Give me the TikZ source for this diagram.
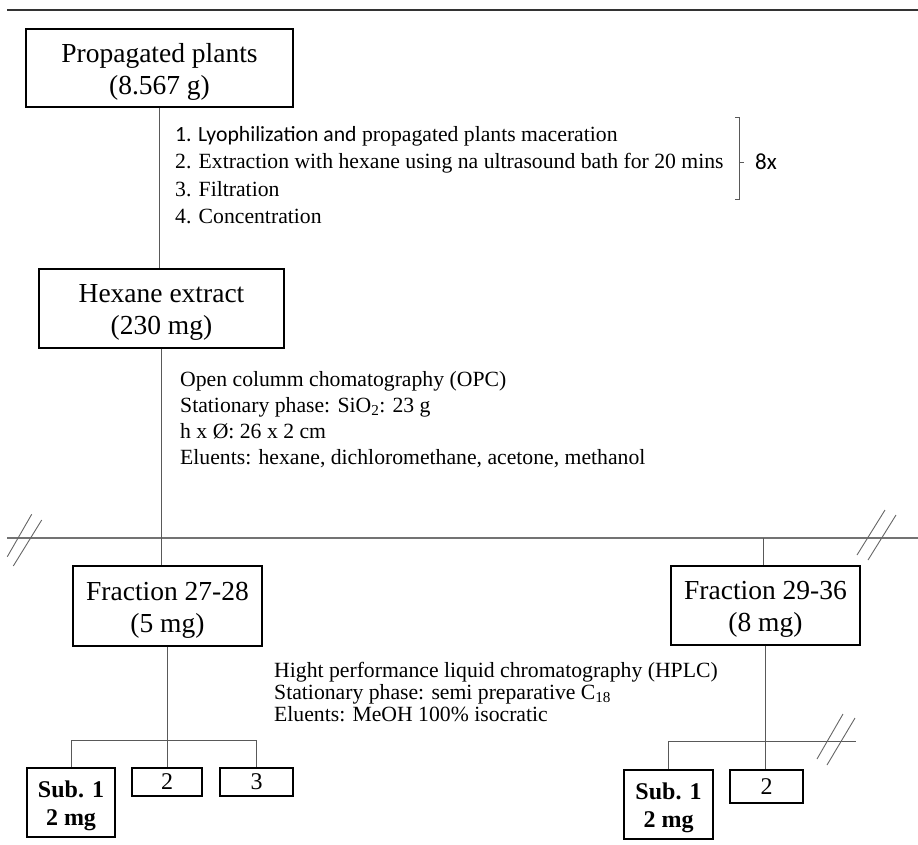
\documentclass[tikz,border=0pt]{standalone}
\usepackage{fontspec}
\setmainfont{Liberation Serif}
\newfontfamily\calib{Carlito}
\newcommand{\bigstrut}{\rule{0pt}{26pt}}
\newcommand{\substrut}{\rule{0pt}{23pt}}
\begin{document}
\begin{tikzpicture}[x=1pt,y=-1pt,
  box/.style={draw=black, line width=1.4pt, inner sep=0pt, align=center},
  bigtext/.style={font=\fontsize{27.5}{32}\selectfont},
  subtext/.style={font=\fontsize{24}{28}\selectfont},
  smalltext/.style={font=\fontsize{21.7}{26}\selectfont, inner sep=0pt, anchor=base west},
  conn/.style={draw=black!65, line width=1pt},
  hline/.style={draw=black!55, line width=1.3pt},
  slash/.style={draw=black!60, line width=0.9pt},
  topline/.style={draw=black!80, line width=2pt}
]
\useasboundingbox (0,0) rectangle (918,844);
% top rule
\coordinate (tl) at (7,10);
\coordinate (tr) at (918,10);
\draw[topline] (tl) -- (tr);

% main boxes
\node[box, bigtext, minimum width=267, minimum height=78] (prop) at (159.5,68) {\bigstrut Propagated plants\\(8.567 g)};
\node[box, bigtext, minimum width=245, minimum height=79] (hex) at (161.5,308.5) {\bigstrut Hexane extract\\(230 mg)};
\node[box, bigtext, minimum width=189, minimum height=80] (frac1) at (167.5,606) {\bigstrut Fraction 27-28\\(5 mg)};
\node[box, bigtext, minimum width=189, minimum height=79] (frac2) at (765.5,605.5) {\bigstrut Fraction 29-36\\(8 mg)};

% sub boxes left
\node[box, subtext, minimum width=88, minimum height=69] (subL) at (71,802.5) {\substrut\textbf{Sub. 1}\\\textbf{2 mg}};
\node[box, subtext, minimum width=70, minimum height=28] (b2L) at (167,782) {2};
\node[box, subtext, minimum width=73, minimum height=28] (b3L) at (256.5,782) {3};
% sub boxes right
\node[box, subtext, minimum width=89, minimum height=69] (subR) at (668.5,804.5) {\substrut\textbf{Sub. 1}\\\textbf{2 mg}};
\node[box, subtext, minimum width=73, minimum height=33] (b2R) at (766.5,786.5) {2};

% step texts
\node[smalltext] (s1) at (175,141) {{\calib 1. Lyophilization and} propagated plants maceration};
\node[smalltext] (s2) at (175,168.5) {2. Extraction with hexane using na ultrasound bath for 20 mins};
\node[smalltext] (s3) at (175,196) {3. Filtration};
\node[smalltext] (s4) at (175,223.5) {4. Concentration};
% bracket
\coordinate (bt) at (735,117);
\coordinate (bb) at (735,199);
\coordinate (bm) at (739,162);
\draw[conn, line width=0.9pt] (bt) -- ++(4,0) -- ++(0,82) -- (bb);
\draw[conn, line width=0.9pt] (bm) -- ++(5,0);
\node[anchor=west, inner sep=0pt, font=\calib\fontsize{23}{27}\selectfont] (eight) at (755,162) {8x};

% OPC texts
\node[smalltext] (o1) at (180,386) {Open columm chomatography (OPC)};
\node[smalltext] (o2) at (180,412) {Stationary phase: SiO\textsubscript{2}: 23 g};
\node[smalltext] (o3) at (180,438) {h x Ø: 26 x 2 cm};
\node[smalltext] (o4) at (180,464) {Eluents: hexane, dichloromethane, acetone, methanol};

% HPLC texts
\node[smalltext] (h1) at (274,677) {Hight performance liquid chromatography (HPLC)};
\node[smalltext] (h2) at (274,699) {Stationary phase: semi preparative C\textsubscript{18}};
\node[smalltext] (h3) at (274,721) {Eluents: MeOH 100\% isocratic};

% connectors
\draw[conn] (prop.south) -- (prop.south |- hex.north);
\coordinate (hlL) at (7,538);
\coordinate (hlR) at (918,538);
\draw[hline] (hlL) -- (hlR);
\draw[conn] (hex.south) -- (hex.south |- frac1.north);
\coordinate (jR) at (763,538);
\draw[conn] (jR) -- (jR |- frac2.north);

% bottom left tree
\coordinate (bl) at (71,740);
\draw[conn] (frac1.south) -- (frac1.south |- b2L.north);
\draw[conn] (subL.north) -- (bl) -| (b3L.north);
% bottom right tree
\coordinate (br) at (856,741);
\draw[conn] (frac2.south) -- (frac2.south |- b2R.north);
\draw[conn] (subR.north) |- (br);

% break marks
\draw[slash] (31.7,514.3) -- (7.3,556.7);
\draw[slash] (41.7,520) -- (13.3,566);
\draw[slash] (885,510) -- (857,555);
\draw[slash] (896,515) -- (868,560);
\draw[slash] (843,714) -- (817,759);
\draw[slash] (855,718) -- (827,765);
\end{tikzpicture}
\end{document}
